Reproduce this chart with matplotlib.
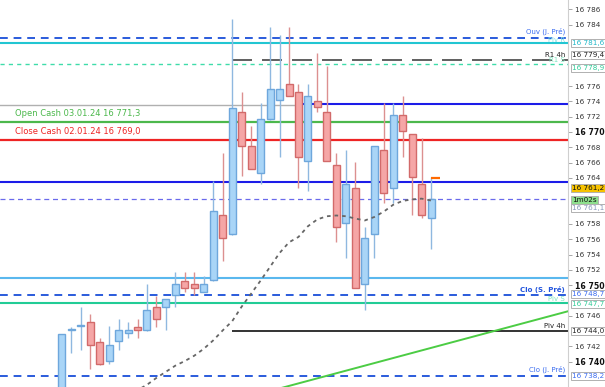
import matplotlib.pyplot as plt
import matplotlib.transforms as mtransforms
import numpy as np

# OHLC des bougies
opens = [16735.0, 16744.2, 16744.7, 16745.2, 16742.6, 16740.1, 16742.7, 16743.7, 16744.6, 16744.1,
         16747.1, 16747.1, 16748.7, 16750.6, 16750.1, 16749.15, 16750.7, 16759.1, 16756.65, 16772.65,
         16768.2, 16764.7, 16771.65, 16774.2, 16776.2, 16775.2, 16766.2, 16774.1, 16772.65, 16765.65,
         16758.1, 16762.7, 16750.1, 16756.65, 16767.65, 16762.65, 16772.2, 16769.7, 16763.2, 16758.75]
highs = [16743.6, 16744.6, 16747.1, 16746.25, 16743.1, 16744.7, 16745.6, 16745.2, 16745.6, 16750.1,
         16748.6, 16748.2, 16751.7, 16751.7, 16751.7, 16751.2, 16763.6, 16767.2, 16784.7, 16775.2,
         16770.8, 16773.75, 16783.75, 16782.65, 16783.75, 16776.2, 16776.2, 16780.3, 16778.6, 16767.2,
         16767.65, 16766.1, 16757.6, 16768.2, 16773.75, 16773.75, 16774.75, 16769.7, 16769.2, 16764.15]
lows = [16734.0, 16741.1, 16741.6, 16739.1, 16739.6, 16739.7, 16741.6, 16743.1, 16743.1, 16744.0,
        16744.6, 16744.15, 16747.1, 16749.15, 16748.7, 16749.1, 16750.6, 16753.2, 16756.6, 16764.2,
        16765.2, 16763.2, 16771.6, 16766.7, 16774.7, 16762.65, 16762.3, 16772.65, 16766.2, 16755.7,
        16753.6, 16749.6, 16746.7, 16753.6, 16760.7, 16760.7, 16766.7, 16759.2, 16758.75, 16754.7]
closes = [16743.6, 16744.2, 16744.7, 16742.2, 16739.7, 16742.15, 16744.1, 16744.1, 16744.1, 16746.7,
          16745.6, 16748.15, 16750.1, 16749.6, 16749.6, 16750.1, 16759.65, 16756.2, 16773.1, 16768.2,
          16765.2, 16771.65, 16775.65, 16775.65, 16774.75, 16766.7, 16774.7, 16773.2, 16766.2, 16757.6,
          16763.2, 16749.6, 16756.2, 16768.2, 16762.1, 16772.2, 16770.15, 16764.15, 16759.2, 16761.2]

# moyenne mobile (pointillés gris), à partir de la bougie 8
ma_start = 8
ma_values = [16736.3, 16737.0, 16737.9, 16738.7, 16739.5, 16740.1, 16740.8, 16741.7, 16742.8, 16744.1,
             16745.3, 16747.2, 16748.9, 16750.6, 16752.4, 16754.2, 16755.6, 16756.3, 16757.7, 16758.6,
             16759.0, 16759.1, 16759.0, 16758.7, 16758.45, 16758.9, 16759.6, 16760.5, 16761.0, 16761.2,
             16761.3, 16761.05]

# niveaux
ouv_j_pre = 16782.3
piv_r = 16781.6
r1_4h = 16779.4
r1_s = 16778.9
niveau_gris = 16773.55
niveau_bleu_haut = 16773.6
open_cash = 16771.3
close_cash = 16769.0
niveau_bleu_bas = 16763.5
dernier = 16761.2
niveau_bleu_clair = 16751.0
clo_s_pre = 16748.7
piv_s = 16747.7
piv_4h = 16744.0
clo_j_pre = 16738.2
tendance_x = [22.0, 53.5]
tendance_y = [16736.19, 16746.61]

ticks_visibles = [16786, 16784, 16776, 16774, 16772, 16770, 16768, 16766, 16764,
                  16758, 16756, 16754, 16752, 16750, 16746, 16742, 16740]

BLEU_FOND, BLEU_BORD, BLEU_MECHE = "#a9d5f7", "#6ea7dc", "#8fb8e0"
ROUGE_FOND, ROUGE_BORD, ROUGE_MECHE = "#f5a6a6", "#d26a6a", "#dc9090"


def fmt(v):
    s = f"{v:,.1f}".replace(",", " ").replace(".", ",")
    return s


fig = plt.figure(figsize=(6.05, 3.87), dpi=100)
ax = fig.add_axes([0, 0, 568 / 605, 1])
ax.set_xlim(-6.52, 53.46)
ax.set_ylim(16736.71, 16787.23)

# lignes horizontales
ax.axhline(ouv_j_pre, color="#2a5bdc", lw=1.4, dashes=(4, 3), zorder=1)
ax.axhline(piv_r, color="#22c6d2", lw=1.5, zorder=1)
ax.hlines(r1_4h, 18, 60, color="#444444", lw=1.2, linestyles=(0, (12, 6)), zorder=1)
ax.axhline(r1_s, color="#3fdcaa", lw=1.0, dashes=(3, 3), zorder=1)
ax.hlines(niveau_gris, -10, 24.9, color="#b0b0b0", lw=1.0, zorder=1)
ax.hlines(niveau_bleu_haut, 24.9, 60, color="#1c1ce8", lw=1.5, zorder=1)
ax.axhline(open_cash, color="#4cb84c", lw=1.6, zorder=1)
ax.axhline(close_cash, color="#ee2424", lw=1.6, zorder=1)
ax.axhline(niveau_bleu_bas, color="#1c1ce8", lw=1.5, zorder=1)
ax.axhline(dernier, color="#6a6aec", lw=0.9, dashes=(4, 3), zorder=1)
ax.axhline(niveau_bleu_clair, color="#5ab8ee", lw=1.5, zorder=1)
ax.axhline(clo_s_pre, color="#2a5bdc", lw=1.4, dashes=(4, 3), zorder=1)
ax.axhline(piv_s, color="#22cc96", lw=1.5, zorder=1)
ax.hlines(piv_4h, 18, 60, color="#111111", lw=1.2, zorder=1)
ax.axhline(clo_j_pre, color="#2a5bdc", lw=1.4, dashes=(4, 3), zorder=1)
ax.plot(tendance_x, tendance_y, color="#4ccc44", lw=1.4, zorder=1)

# bougies
x = np.arange(len(opens))
o, h, l, c = map(np.array, (opens, highs, lows, closes))
hausse = c >= o
couleurs_meche = np.where(hausse, BLEU_MECHE, ROUGE_MECHE)
ax.vlines(x, l, h, colors=couleurs_meche, lw=1.0, zorder=2)
bas = np.minimum(o, c)
haut_corps = np.maximum(np.abs(c - o), 0.12)
ax.bar(x, haut_corps, bottom=bas, width=0.74,
       color=np.where(hausse, BLEU_FOND, ROUGE_FOND),
       edgecolor=np.where(hausse, BLEU_BORD, ROUGE_BORD), linewidth=1.0, zorder=3)

# repère orange sur la dernière bougie
ax.hlines(16763.96, 39, 39.9, color="#ff6a00", lw=1.6, zorder=4)

# moyenne mobile
ma_x = np.arange(ma_start, ma_start + len(ma_values))
ax.plot(ma_x, ma_values, color="#666666", lw=1.3, dashes=(2, 2.2), zorder=4)

tr_in = mtransforms.blended_transform_factory(ax.transAxes, ax.transData)

# textes à gauche
ax.text(0.026, open_cash + 0.5, f"Open Cash 03.01.24 {fmt(open_cash)}", transform=tr_in,
        color="#4cb84c", fontsize=6, va="bottom")
ax.text(0.026, close_cash + 0.5, f"Close Cash 02.01.24 {fmt(close_cash)}", transform=tr_in,
        color="#ee2424", fontsize=6, va="bottom")

# libellés à droite, dans le graphique
ax.text(0.995, ouv_j_pre + 0.3, "Ouv (J. Pré)", transform=tr_in, ha="right", va="bottom", fontsize=5, color="#3a6cf0")
ax.text(0.995, piv_r + 0.05, "Piv R", transform=tr_in, ha="right", va="bottom", fontsize=5, color="#7fe0e6")
ax.text(0.995, r1_4h + 0.3, "R1 4h", transform=tr_in, ha="right", va="bottom", fontsize=5, color="#222222")
ax.text(0.995, r1_s + 0.05, "R1 S", transform=tr_in, ha="right", va="bottom", fontsize=5, color="#7fe6c0")
ax.text(0.995, clo_s_pre + 0.3, "Clo (S. Pré)", transform=tr_in, ha="right", va="bottom", fontsize=5, color="#2255dd", fontweight="bold")
ax.text(0.995, piv_s + 0.1, "Piv S", transform=tr_in, ha="right", va="bottom", fontsize=5, color="#7fe6c0")
ax.text(0.995, piv_4h + 0.3, "Piv 4h", transform=tr_in, ha="right", va="bottom", fontsize=5, color="#222222")
ax.text(0.995, clo_j_pre + 0.3, "Clo (J. Pré)", transform=tr_in, ha="right", va="bottom", fontsize=5, color="#3a6cf0")

# axe des prix à droite
for s in ("top", "left", "bottom"):
    ax.spines[s].set_visible(False)
ax.spines["right"].set_color("#cfcfcf")
ax.set_xticks([])
ax.yaxis.tick_right()
ax.set_yticks(ticks_visibles)
ax.set_yticklabels([f"{t:,}".replace(",", " ") for t in ticks_visibles])
ax.tick_params(axis="y", direction="out", length=3, width=0.6, color="#999999",
               labelsize=5.2, labelcolor="#333333", pad=2)
for lab, t in zip(ax.get_yticklabels(), ticks_visibles):
    if t % 10 == 0:
        lab.set_fontweight("bold")
        lab.set_fontsize(5.6)
        lab.set_color("#111111")

# étiquettes encadrées sur l'axe (décalées comme sur l'original pour éviter le chevauchement)
boites = [
    (16781.65, fmt(piv_r), "#22b8c8", "white"),
    (16780.05, fmt(r1_4h), "#222222", "white"),
    (16778.3, fmt(r1_s), "#33cc99", "white"),
    (16760.1, fmt(16761.1), "#8899bb", "white"),
    (16761.1, "1m02s", "#111111", "#8ee08e"),
    (16762.7, fmt(dernier), "#111111", "#f6c200"),
    (16748.9, fmt(clo_s_pre), "#3a6cf0", "white"),
    (16747.55, fmt(piv_s), "#33cc99", "white"),
    (piv_4h, fmt(piv_4h), "#222222", "white"),
    (clo_j_pre, fmt(clo_j_pre), "#3a6cf0", "white"),
]
for y, txt, col, fond in boites:
    ax.text(1.007, y, txt, transform=tr_in, ha="left", va="center", fontsize=5.2, color=col,
            clip_on=False, zorder=6,
            bbox=dict(boxstyle="square,pad=0.15", fc=fond, ec="#b0b0b0", lw=0.7))

fig.savefig("out.png", dpi=100)
plt.close(fig)
